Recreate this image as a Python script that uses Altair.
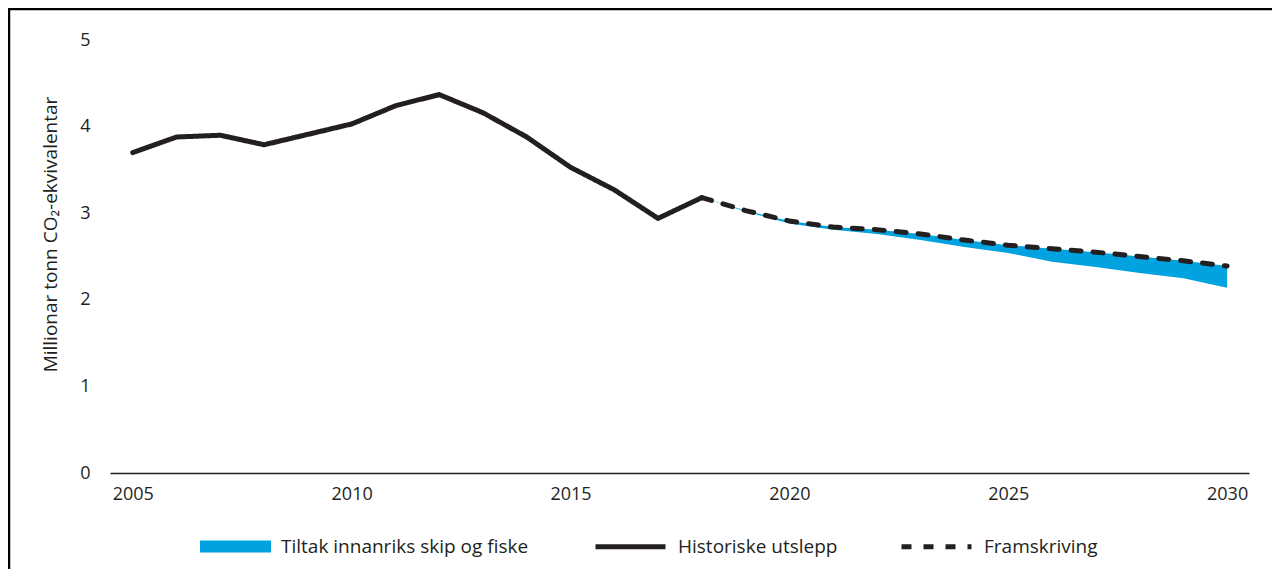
import altair as alt
import pandas as pd

# ---- data ----
years_hist = list(range(2005, 2019))
hist = [3.70, 3.88, 3.90, 3.79, 3.91, 4.03, 4.24, 4.37, 4.16, 3.88, 3.53, 3.27, 2.94, 3.18]

years_proj = list(range(2018, 2031))
proj = [3.18, 3.03, 2.91, 2.84, 2.81, 2.76, 2.69, 2.63, 2.59, 2.55, 2.50, 2.45, 2.39]
with_measures = [3.18, 3.02, 2.88, 2.81, 2.76, 2.69, 2.61, 2.54, 2.44, 2.38, 2.31, 2.25, 2.14]

area_name = ["Tiltak innanriks skip og fiske"]
line_names = ["Historiske utslepp", "Framskriving"]
x_ticks = [2005, 2010, 2015, 2020, 2025, 2030]
y_ticks = [0, 1, 2, 3, 4, 5]
y_title = "Millionar tonn CO₂-ekvivalentar"

BLUE = "#00A3E0"
BLACK = "#231F20"
FONT = "Open Sans"

lines_df = pd.DataFrame(
    {
        "year": years_hist + years_proj,
        "value": hist + proj,
        "series": [line_names[0]] * len(years_hist) + [line_names[1]] * len(years_proj),
    }
)
area_df = pd.DataFrame(
    {
        "year": years_proj,
        "upper": proj,
        "lower": with_measures,
        "series": area_name * len(years_proj),
    }
)
frame_df = pd.DataFrame({"k": [0]})

area_legend = alt.Legend(
    title=None,
    orient="none",
    legendX=90,
    legendY=471,
    direction="horizontal",
    symbolType="M-1,-0.169H1V0.169H-1Z",
    symbolSize=5041,
    symbolStrokeWidth=0,
    labelFontSize=19,
    labelFont=FONT,
    labelColor=BLACK,
    labelOffset=10,
    labelLimit=500,
)

line_legend = alt.Legend(
    title=None,
    orient="none",
    legendX=483,
    legendY=469,
    direction="horizontal",
    columns=2,
    symbolType="stroke",
    symbolSize=4900,
    symbolStrokeWidth=5,
    labelFontSize=19,
    labelFont=FONT,
    labelColor=BLACK,
    labelOffset=10,
    labelLimit=500,
    columnPadding=53,
)

x_enc = alt.X(
    "year:Q",
    scale=alt.Scale(domain=[2004.48, 2030.5], nice=False, zero=False),
    axis=alt.Axis(
        values=x_ticks,
        format="d",
        title=None,
        ticks=False,
        grid=False,
        domainColor=BLACK,
        domainWidth=1.5,
        labelFontSize=18,
        labelFont=FONT,
        labelColor=BLACK,
        labelPadding=12,
    ),
)

y_axis = alt.Axis(
    values=y_ticks,
    title=y_title,
    domain=False,
    ticks=False,
    grid=False,
    labelPadding=20,
    labelFontSize=18,
    labelFont=FONT,
    labelColor=BLACK,
    titleFont=FONT,
    titleFontSize=19,
    titleFontWeight="normal",
    titleColor=BLACK,
    titleX=-60,
    titleY=194,
    titleAngle=270,
    titleAlign="center",
    titleBaseline="middle",
)
y_scale = alt.Scale(domain=[0, 5], nice=False)

stroke_enc = alt.Stroke(
    "series:N",
    scale=alt.Scale(domain=line_names, range=[BLACK, BLACK]),
    legend=line_legend,
)
dash_enc = alt.StrokeDash(
    "series:N",
    scale=alt.Scale(domain=line_names, range=[[1, 0], [10, 12]]),
    legend=line_legend,
)

area = alt.Chart(area_df).mark_area(opacity=1).encode(
    x=x_enc,
    y=alt.Y("lower:Q", scale=y_scale, axis=y_axis),
    y2="upper:Q",
    fill=alt.Fill(
        "series:N",
        scale=alt.Scale(domain=area_name, range=[BLUE]),
        legend=area_legend,
    ),
)

lines = (
    alt.Chart(lines_df)
    .mark_line(strokeCap="round", strokeWidth=5)
    .encode(
        x=x_enc,
        y=alt.Y("value:Q", scale=y_scale, axis=y_axis),
        stroke=stroke_enc,
        strokeDash=dash_enc,
        detail="series:N",
    )
)

frame_top = alt.Chart(frame_df).mark_rule(color="#000000", strokeWidth=2.5).encode(
    x=alt.value(-102), x2=alt.value(1162), y=alt.value(-31)
)
frame_left = alt.Chart(frame_df).mark_rule(color="#000000", strokeWidth=2.5).encode(
    x=alt.value(-101), y=alt.value(-32), y2=alt.value(540)
)

chart = (
    alt.layer(area, lines, frame_top, frame_left)
    .resolve_legend(fill="independent", stroke="independent", strokeDash="independent")
    .properties(
        width=1139,
        height=433,
        padding={"left": 102, "top": 32, "right": 23, "bottom": 96},
        autosize=alt.AutoSizeParams(type="none"),
        background="white",
    )
    .configure_view(stroke=None)
)

chart.save("out.html", embed_options={"renderer": "svg", "actions": False})
